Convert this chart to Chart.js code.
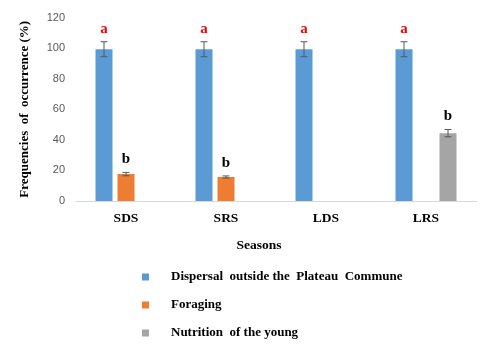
<!DOCTYPE html>
<html>
<head>
<meta charset="utf-8">
<script src="https://cdn.jsdelivr.net/npm/chart.js@4/dist/chart.umd.min.js"></script>
<style>
  html, body { margin: 0; padding: 0; background: #fff; }
  #wrap { width: 495px; height: 357px; }
</style>
</head>
<body>
<div id="wrap"><canvas id="chart"></canvas></div>
<script>
// Seasons and series
const seasons = ['SDS', 'SRS', 'LDS', 'LRS'];
const seriesNames = ['Dispersal  outside the  Plateau  Commune', 'Foraging', 'Nutrition  of the young'];
const seriesColors = ['#5b9bd5', '#ed7d31', '#a5a5a5'];

const dispersal = [99.3, 99.3, 99.3, 99.3];
const dispersalErr = [4.9, 4.9, 4.9, 4.9];
const dispersalLetters = ['a', 'a', 'a', 'a'];

const foraging = [17.6, 15.7, null, null];
const foragingErr = [1.1, 0.7, null, null];
const foragingLetters = ['b', 'b', null, null];

const nutrition = [null, null, null, 44.4];
const nutritionErr = [null, null, null, 2.4];
const nutritionLetters = [null, null, null, 'b'];

const yTicks = [0, 20, 40, 60, 80, 100, 120];

const serif = '"Liberation Serif", "Times New Roman", serif';
const sans = '"Liberation Sans", Arial, sans-serif';

const errors = [dispersalErr, foragingErr, nutritionErr];
const letters = [dispersalLetters, foragingLetters, nutritionLetters];
const letterColors = ['#ff0000', '#000000', '#000000'];

// error bars + significance letters
const errorBarPlugin = {
    id: 'errorBars',
    afterDatasetsDraw(chart) {
        const ctx = chart.ctx;
        const y = chart.scales.y;
        chart.data.datasets.forEach((ds, di) => {
            const meta = chart.getDatasetMeta(di);
            meta.data.forEach((bar, i) => {
                const v = ds.data[i];
                if (v === null || v === undefined) return;
                const e = errors[di][i] || 0;
                const top = y.getPixelForValue(v + e);
                const bot = y.getPixelForValue(v - e);
                ctx.save();
                ctx.strokeStyle = '#595959';
                ctx.lineWidth = 1;
                ctx.beginPath();
                ctx.moveTo(bar.x, top); ctx.lineTo(bar.x, bot);
                ctx.moveTo(bar.x - 3.5, top); ctx.lineTo(bar.x + 3.5, top);
                ctx.moveTo(bar.x - 3.5, bot); ctx.lineTo(bar.x + 3.5, bot);
                ctx.stroke();
                const l = letters[di][i];
                if (l) {
                    ctx.font = 'bold 15px ' + serif;
                    ctx.fillStyle = letterColors[di];
                    ctx.textAlign = 'center';
                    ctx.textBaseline = 'middle';
                    ctx.fillText(l, bar.x, top - 13);
                }
                ctx.restore();
            });
        });
    },
};

// x title and the stacked legend under the chart
const bottomTextPlugin = {
    id: 'bottomText',
    afterDraw(chart) {
        const ctx = chart.ctx;
        const base = chart.chartArea.bottom;
        ctx.save();
        ctx.fillStyle = '#000';
        ctx.font = 'bold 13.5px ' + serif;
        ctx.textAlign = 'center';
        ctx.textBaseline = 'middle';
        ctx.fillText('Seasons', 259, base + 45);
        ctx.textAlign = 'left';
        ctx.font = 'bold 13px ' + serif;
        chart.data.datasets.forEach((ds, i) => {
            const cy = base + 76 + i * 28;
            ctx.fillStyle = ds.backgroundColor;
            ctx.fillRect(142, cy - 3.5, 7, 7);
            ctx.fillStyle = '#000';
            ctx.fillText(ds.label, 171, cy);
        });
        ctx.restore();
    },
};

new Chart(document.getElementById('chart'), {
    type: 'bar',
    data: {
        labels: seasons,
        datasets: [
            { label: seriesNames[0], data: dispersal, backgroundColor: seriesColors[0] },
            { label: seriesNames[1], data: foraging, backgroundColor: seriesColors[1] },
            { label: seriesNames[2], data: nutrition, backgroundColor: seriesColors[2] },
        ],
    },
    options: {
        responsive: true,
        maintainAspectRatio: false,
        animation: false,
        datasets: {
            bar: { categoryPercentage: 0.66, barPercentage: 0.773 },
        },
        layout: { padding: { top: 17, right: 19, bottom: 126, left: 0 } },
        plugins: {
            legend: { display: false },
            tooltip: { enabled: false },
        },
        scales: {
            x: {
                grid: { display: false, drawTicks: false },
                border: { color: '#d9d9d9', width: 1 },
                ticks: {
                    color: '#000',
                    padding: 9,
                    font: { family: serif, size: 13.5, weight: 'bold' },
                },
                afterFit: s => { s.height = 30; },
            },
            y: {
                min: 0,
                max: 120,
                afterBuildTicks: s => { s.ticks = yTicks.map(v => ({ value: v })); },
                grid: { display: false, drawTicks: false },
                border: { display: false },
                ticks: {
                    color: '#595959',
                    padding: 11,
                    font: { family: sans, size: 11 },
                },
                title: {
                    display: true,
                    text: 'Frequencies  of  occurrence (%)',
                    color: '#000',
                    padding: { top: 17, bottom: 0 },
                    font: { family: serif, size: 13, weight: 'bold' },
                },
                afterFit: s => { s.width = 76; },
            },
        },
    },
    plugins: [errorBarPlugin, bottomTextPlugin],
});
</script>
</body>
</html>
